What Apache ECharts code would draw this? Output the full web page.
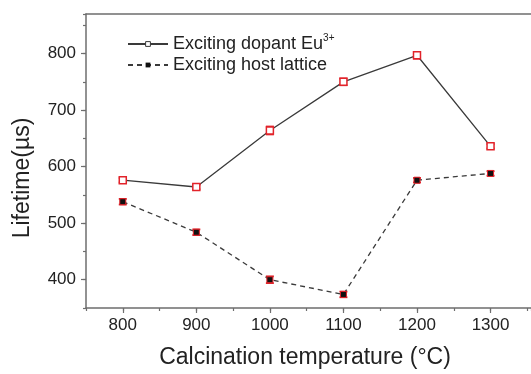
<!DOCTYPE html>
<html>
<head>
<meta charset="utf-8">
<script src="https://cdn.jsdelivr.net/npm/echarts@6/dist/echarts.min.js"></script>
<style>
  html, body { margin: 0; padding: 0; background: #fff; }
  #chart { width: 531px; height: 374px; }
</style>
</head>
<body>
<div id="chart"></div>
<script>
// Calcination temperatures (°C)
const temperatures = [800, 900, 1000, 1100, 1200, 1300];
// Luminescence lifetime (µs) when exciting the Eu3+ dopant directly
const dopantLifetime = [576, 564, 664, 750, 797, 636];
// Luminescence lifetime (µs) when exciting the host lattice
const hostLifetime = [538, 484, 400, 374, 576, 588];
// Uncertainty on each lifetime (µs)
const dopantError = [4, 4, 7, 6, 6, 4];
const hostError = [5, 5, 6, 5, 4, 4];

const xTickLabels = [800, 900, 1000, 1100, 1200, 1300];
const yTickLabels = [400, 500, 600, 700, 800];

const RED = '#e2232a';
const LINE = '#3a3a3a';
const AXIS = '#6e6e6e';
const TEXT = '#222';
const FONT = 'Liberation Sans, Arial, sans-serif';

function pairs(xs, ys) { return xs.map((x, i) => [x, ys[i]]); }
function errData(xs, ys, es) { return xs.map((x, i) => [x, ys[i] - es[i], ys[i] + es[i]]); }

function errorBars(api) {
  const x = api.value(0);
  const lo = api.coord([x, api.value(1)]);
  const hi = api.coord([x, api.value(2)]);
  const w = 4;
  const style = { stroke: RED, lineWidth: 1.8 };
  return {
    type: 'group',
    children: [
      { type: 'line', shape: { x1: lo[0], y1: lo[1], x2: hi[0], y2: hi[1] }, style },
      { type: 'line', shape: { x1: lo[0] - w, y1: lo[1], x2: lo[0] + w, y2: lo[1] }, style },
      { type: 'line', shape: { x1: hi[0] - w, y1: hi[1], x2: hi[0] + w, y2: hi[1] }, style }
    ]
  };
}

const chart = echarts.init(document.getElementById('chart'), null, { renderer: 'canvas' });

// The plot frame runs past the right edge, so only the left, bottom and top sides are drawn.
const baseX = { type: 'value', min: 750, max: 1355, interval: 50, splitLine: { show: false } };
const baseY = { type: 'value', min: 350, max: 870, interval: 50, splitLine: { show: false } };
const plain = v => String(v);

chart.setOption({
  animation: false,
  backgroundColor: '#fff',
  grid: { left: 86, top: 14, right: 0, bottom: 62, show: false },
  legend: {
    left: 122, top: 28, orient: 'vertical', itemGap: 3,
    itemWidth: 40, itemHeight: 6,
    data: [
      { name: 'dopant', itemStyle: { color: '#fff', borderColor: LINE, borderWidth: 1 } },
      { name: 'host', itemStyle: { color: '#111', borderColor: '#111', borderWidth: 0 } }
    ],
    formatter: function (name) {
      return name === 'dopant'
        ? '{t|Exciting dopant Eu}{s|3+}'
        : '{t|Exciting host lattice}';
    },
    textStyle: {
      rich: {
        t: { fontFamily: FONT, fontSize: 18, color: TEXT },
        s: { fontFamily: FONT, fontSize: 10, color: TEXT, verticalAlign: 'top', padding: [0, 0, 12, 0] }
      }
    }
  },
  xAxis: [
    Object.assign({}, baseX, {
      name: 'Calcination temperature (°C)',
      nameLocation: 'middle', nameGap: 38,
      nameTextStyle: { fontFamily: FONT, fontSize: 23, color: TEXT, padding: [0, 7, 0, 0] },
      axisLine: { show: true, lineStyle: { color: AXIS, width: 1.5 } },
      axisTick: { show: true, inside: false, length: 3, lineStyle: { color: AXIS, width: 1.2 } },
      axisLabel: { customValues: xTickLabels, formatter: plain, margin: 9, fontFamily: FONT, fontSize: 17, color: TEXT }
    }),
    Object.assign({}, baseX, {
      gridIndex: 0, position: 'bottom',
      axisLine: { show: false },
      axisTick: { show: true, customValues: xTickLabels, length: 5, lineStyle: { color: AXIS, width: 1.2 } },
      axisLabel: { show: false }
    }),
    Object.assign({}, baseX, {
      gridIndex: 0, position: 'top',
      axisLine: { show: true, lineStyle: { color: AXIS, width: 1.5 } },
      axisTick: { show: false },
      axisLabel: { show: false }
    })
  ],
  yAxis: [
    Object.assign({}, baseY, {
      name: 'Lifetime(µs)',
      nameLocation: 'middle', nameGap: 52,
      nameTextStyle: { fontFamily: FONT, fontSize: 23, color: TEXT, padding: [0, 34, 0, 0] },
      axisLine: { show: true, lineStyle: { color: AXIS, width: 1.5 } },
      axisTick: { show: true, inside: false, length: 3, lineStyle: { color: AXIS, width: 1.2 } },
      axisLabel: { customValues: yTickLabels, formatter: plain, margin: 10, fontFamily: FONT, fontSize: 17, color: TEXT }
    }),
    Object.assign({}, baseY, {
      gridIndex: 0, position: 'left',
      axisLine: { show: false },
      axisTick: { show: true, customValues: yTickLabels, length: 5, lineStyle: { color: AXIS, width: 1.2 } },
      axisLabel: { show: false }
    })
  ],
  series: [
    {
      type: 'custom', name: 'dopantErr', renderItem: (p, api) => errorBars(api),
      data: errData(temperatures, dopantLifetime, dopantError), z: 3, silent: true
    },
    {
      type: 'custom', name: 'hostErr', renderItem: (p, api) => errorBars(api),
      data: errData(temperatures, hostLifetime, hostError), z: 3, silent: true
    },
    {
      type: 'line', name: 'dopant', data: pairs(temperatures, dopantLifetime),
      symbol: 'rect', symbolSize: 7, z: 4,
      lineStyle: { color: LINE, width: 1.3 },
      itemStyle: { color: '#fff', borderColor: RED, borderWidth: 1.5 }
    },
    {
      type: 'line', name: 'host', data: pairs(temperatures, hostLifetime),
      symbol: 'rect', symbolSize: 6, z: 4,
      lineStyle: { color: LINE, width: 1.3, type: [5, 4] },
      itemStyle: { color: '#111', borderColor: RED, borderWidth: 1 }
    }
  ]
});
</script>
</body>
</html>
